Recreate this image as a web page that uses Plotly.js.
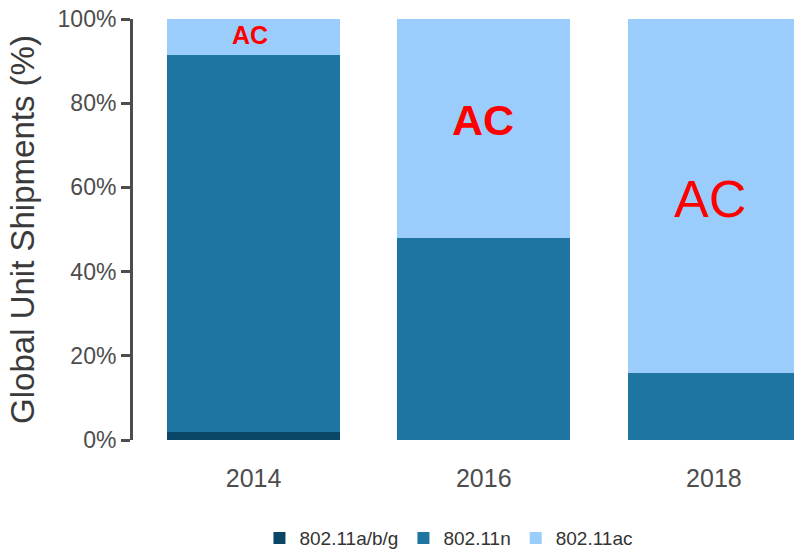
<!DOCTYPE html>
<html>
<head>
<meta charset="utf-8">
<script src="https://cdn.plot.ly/plotly-3.0.1.min.js"></script>
<style>html,body{margin:0;padding:0;background:#fff;}#chart{width:794px;height:551px;}</style>
</head>
<body>
<div id="chart"></div>
<script>
const years = ["2014", "2016", "2018"];
const abg = [2.0, 0, 0];
const n80211 = [89.5, 48.1, 16.0];
const ac80211 = [8.5, 51.9, 84.0];
const seriesNames = ["802.11a/b/g", "802.11n", "802.11ac"];
const colors = ["#0a4766", "#1e75a1", "#9acdfc"];
const acLabelY = [96.2, 76.0, 57.2];
const acLabelSize = [25, 43, 52];
const acLabelBold = [true, true, false];
const yTicks = [0, 20, 40, 60, 80, 100];
const yTickText = ["0%", "20%", "40%", "60%", "80%", "100%"];

const sans = "Liberation Sans, Arial, sans-serif";
const values = [abg, n80211, ac80211];
const traces = values.map((v, i) => ({
  type: "bar",
  x: years,
  y: v,
  name: seriesNames[i],
  marker: {color: colors[i], line: {width: 0}},
  width: 0.75,
  hoverinfo: "skip"
}));

const annotations = years.map((yr, i) => ({
  x: i, y: acLabelY[i], xref: "x", yref: "y",
  text: acLabelBold[i] ? "<b>AC</b>" : "AC",
  showarrow: false,
  xanchor: "center", yanchor: "middle",
  xshift: i === 1 ? -1 : -4,
  font: {family: sans, size: acLabelSize[i], color: "#ff0000"}
}));

const layout = {
  width: 794, height: 551,
  margin: {l: 133, r: 0, t: 19, b: 111, autoexpand: false},
  paper_bgcolor: "#ffffff", plot_bgcolor: "#ffffff",
  barmode: "stack",
  showlegend: true,
  legend: {
    orientation: "h", x: 0.478, xanchor: "center", y: -0.233, yanchor: "middle",
    font: {family: sans, size: 19, color: "#333333"},
    traceorder: "normal"
  },
  xaxis: {
    type: "category",
    range: [-0.524, 2.348],
    showline: false, showgrid: false, zeroline: false,
    ticks: "", ticklabelstandoff: 21,
    tickfont: {family: sans, size: 25, color: "#4d4d4d"}
  },
  yaxis: {
    range: [0, 100],
    tickvals: yTicks, ticktext: yTickText,
    showline: true, linewidth: 3, linecolor: "#4d4d4d",
    ticks: "outside", ticklen: 9, tickwidth: 3, tickcolor: "#4d4d4d",
    showgrid: false, zeroline: false,
    tickfont: {family: sans, size: 23, color: "#4d4d4d"},
    title: {text: "Global Unit Shipments (%)", standoff: 14,
            font: {family: sans, size: 33, color: "#3a3a3a"}}
  },
  annotations: annotations
};

Plotly.newPlot("chart", traces, layout, {displayModeBar: false, staticPlot: true});
</script>
</body>
</html>
